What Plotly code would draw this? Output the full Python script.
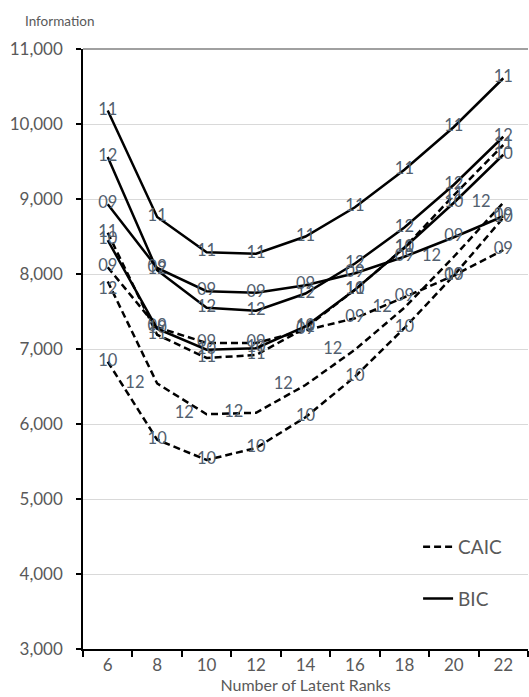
import plotly.graph_objects as go

ranks = ["6", "8", "10", "12", "14", "16", "18", "20", "22"]

bic_09 = [8930, 8080, 7770, 7750, 7850, 8010, 8230, 8490, 8770]
bic_10 = [8450, 7270, 6990, 7010, 7300, 7790, 8350, 8950, 9590]
bic_11 = [10180, 8760, 8290, 8270, 8500, 8890, 9390, 9960, 10610]
bic_12 = [9560, 8050, 7550, 7510, 7740, 8140, 8620, 9190, 9830]

caic_09 = [8090, 7290, 7080, 7080, 7250, 7410, 7690, 7980, 8320]
caic_10 = [6830, 5790, 5520, 5680, 6090, 6630, 7280, 7980, 8750]
caic_11 = [8550, 7190, 6880, 6920, 7280, 7790, 8350, 9050, 9720]
caic_12 = [7900, 6540, 6130, 6150, 6520, 6990, 7550, 8230, 8950]

FONT = "Lato"
GRAY = "#595959"
LABEL = "#52606f"
NB = "\u00a0"

fig = go.Figure()

def add(vals, tags, dashed, showleg=False, name=None, legend=None, pos="middle center"):
    fig.add_trace(go.Scatter(
        x=ranks, y=vals, mode="lines+text",
        text=tags,
        textposition=pos,
        textfont=dict(family=FONT, size=16.5, color=LABEL),
        line=dict(color="black", width=2.5, dash="7px,4px" if dashed else "solid"),
        name=name,
        showlegend=showleg,
        legend=legend if legend else "legend",
        hoverinfo="skip",
    ))

add(caic_10, ["10"] * 9, True)
add(caic_12, ["12"] + ["12" + NB * 3] * 8, True, pos=["bottom center"] + ["middle left"] * 8)
add(caic_09, ["09"] * 9, True)
add(caic_11, ["11"] * 9, True, showleg=True, name="CAIC", legend="legend")
add(bic_10, ["10"] * 9, False)
add(bic_12, ["12"] * 9, False)
add(bic_09, ["09"] * 9, False)
add(bic_11, ["11"] * 9, False, showleg=True, name="BIC", legend="legend2")

fig.update_layout(
    width=529, height=697,
    margin=dict(l=83, r=1, t=49, b=48),
    paper_bgcolor="white", plot_bgcolor="white",
    font=dict(family=FONT, color=GRAY),
    legend=dict(x=0.753, y=0.17, xanchor="left", yanchor="middle",
                font=dict(family=FONT, size=19, color=GRAY),
                bgcolor="rgba(0,0,0,0)", itemwidth=30),
    legend2=dict(x=0.753, y=0.084, xanchor="left", yanchor="middle",
                 font=dict(family=FONT, size=19, color=GRAY),
                 bgcolor="rgba(0,0,0,0)", itemwidth=30),
    xaxis=dict(
        type="category", range=[-0.5, 8.5], automargin=False,
        showline=True, linecolor="black", linewidth=1.5,
        ticks="outside", tickson="boundaries", ticklen=6, tickcolor="black", tickwidth=1.5,
        tickfont=dict(family=FONT, size=17, color=GRAY),
        showgrid=False, zeroline=False,
        title=dict(text="Number of Latent Ranks", font=dict(family=FONT, size=16, color=GRAY), standoff=2),
    ),
    yaxis=dict(
        range=[3000, 11000], dtick=1000, tickformat=",", automargin=False,
        showline=True, linecolor="black", linewidth=1.5,
        ticks="outside", ticklen=5, tickcolor="black", tickwidth=1.5,
        ticklabelstandoff=10,
        tickfont=dict(family=FONT, size=17, color=GRAY),
        showgrid=True, gridcolor="#d9d9d9", gridwidth=1,
        zeroline=False,
    ),
    annotations=[dict(text="Information", xref="paper", yref="paper",
                      x=-0.134, y=1.03, xanchor="left", yanchor="bottom", showarrow=False,
                      font=dict(family=FONT, size=13.5, color=GRAY))],
    shapes=[dict(type="line", xref="paper", yref="paper", x0=0, x1=1, y0=1, y1=1,
                 line=dict(color="#808080", width=1.5), layer="below")],
)

fig.write_html("out.html", config={"displayModeBar": False},
               post_script="document.body.style.margin='0';document.body.style.padding='0';")
